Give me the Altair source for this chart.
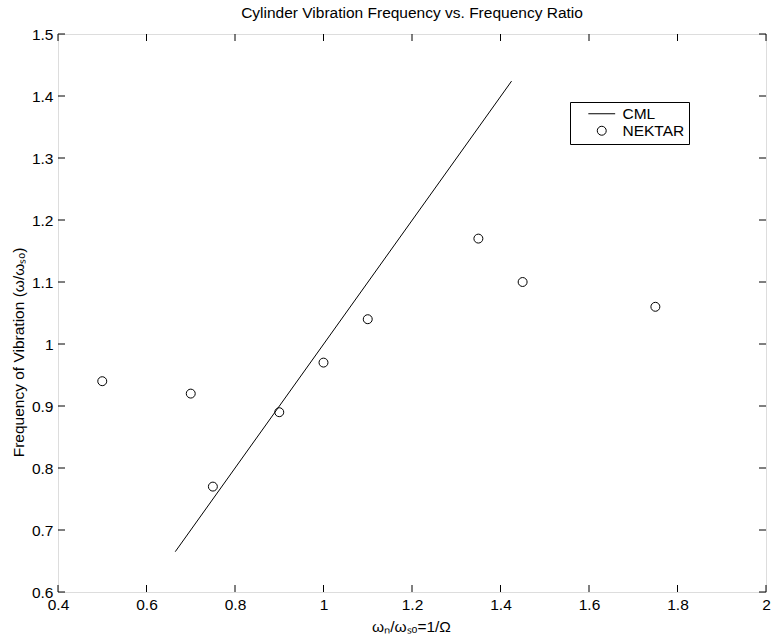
import altair as alt
import pandas as pd

# Data
cml_x = [0.665, 1.425]
cml_y = [0.665, 1.424]
nek_x = [0.5, 0.7, 0.75, 0.9, 1.0, 1.1, 1.35, 1.45, 1.75]
nek_y = [0.94, 0.92, 0.77, 0.89, 0.97, 1.04, 1.17, 1.10, 1.06]
x_ticks = [0.4, 0.6, 0.8, 1.0, 1.2, 1.4, 1.6, 1.8, 2.0]
y_ticks = [0.6, 0.7, 0.8, 0.9, 1.0, 1.1, 1.2, 1.3, 1.4, 1.5]
series = ["CML", "NEKTAR"]

W, H = 708, 558
FONT = "Liberation Sans"
FS = 15.5
TL = 7  # inward tick length

cml_df = pd.DataFrame({"x": cml_x, "y": cml_y, "series": series[0]})
nek_df = pd.DataFrame({"x": nek_x, "y": nek_y, "series": series[1]})
xt_df = pd.DataFrame({"v": x_ticks})
yt_df = pd.DataFrame({"v": y_ticks})

xscale = alt.Scale(domain=[x_ticks[0], x_ticks[-1]], nice=False, zero=False)
yscale = alt.Scale(domain=[y_ticks[0], y_ticks[-1]], nice=False, zero=False)

xaxis = alt.Axis(values=x_ticks, format="~g", tickSize=0, domain=False, grid=False,
                 labelFlush=False, labelOverlap=False,
                 labelPadding=5, labelFontSize=FS, labelFont=FONT, labelColor="black",
                 title="ωₙ/ωₛₒ=1/Ω", titleFont=FONT, titleFontSize=FS, titleFontWeight="normal",
                 titleColor="black", titleX=W / 2 - 1, titleY=34, titleBaseline="middle",
                 titleAlign="center")
yaxis = alt.Axis(values=y_ticks, format="~g", tickSize=0, domain=False, grid=False,
                 labelFlush=False, labelOverlap=False,
                 labelPadding=5, labelFontSize=FS, labelFont=FONT, labelColor="black",
                 title="Frequency of Vibration (ω/ωₛₒ)", titleFont=FONT, titleFontSize=FS,
                 titleFontWeight="normal", titleColor="black", titleX=-40, titleY=318,
                 titleAngle=270, titleBaseline="middle", titleAlign="center")

line = alt.Chart(cml_df).mark_line(color="black", strokeWidth=1).encode(
    x=alt.X("x:Q", scale=xscale, axis=xaxis),
    y=alt.Y("y:Q", scale=yscale, axis=yaxis),
)

points = alt.Chart(nek_df).mark_point(filled=False, color="black", size=80, strokeWidth=1, opacity=1).encode(
    x=alt.X("x:Q", scale=xscale),
    y=alt.Y("y:Q", scale=yscale),
    shape=alt.Shape("series:N",
                    scale=alt.Scale(domain=series, range=["M-3,0H3", "circle"]),
                    legend=alt.Legend(title=None, orient="none", legendX=512, legendY=68,
                                      strokeColor="black", fillColor="white", padding=4,
                                      labelFont=FONT, labelFontSize=FS, labelColor="black",
                                      symbolStrokeColor="black", symbolStrokeWidth=1,
                                      symbolFillColor="transparent", symbolSize=80,
                                      symbolOffset=20, labelOffset=13, rowPadding=0,
                                      cornerRadius=0)),
)

bot = alt.Chart(xt_df).mark_rule(color="black", strokeWidth=1).encode(
    x=alt.X("v:Q", scale=xscale), y=alt.value(H), y2=alt.value(H - TL))
top = alt.Chart(xt_df).mark_rule(color="black", strokeWidth=1).encode(
    x=alt.X("v:Q", scale=xscale), y=alt.value(0), y2=alt.value(TL))
left = alt.Chart(yt_df).mark_rule(color="black", strokeWidth=1).encode(
    y=alt.Y("v:Q", scale=yscale), x=alt.value(0), x2=alt.value(TL))
right = alt.Chart(yt_df).mark_rule(color="black", strokeWidth=1).encode(
    y=alt.Y("v:Q", scale=yscale), x=alt.value(W), x2=alt.value(W - TL))

chart = alt.layer(bot, top, left, right, line, points).properties(
    width=W, height=H,
    autosize="none",
    padding={"left": 58, "top": 34, "right": 5, "bottom": 50},
    title=alt.TitleParams("Cylinder Vibration Frequency vs. Frequency Ratio", font=FONT,
                          fontSize=FS, fontWeight="normal", color="black", offset=6,
                          anchor="middle"),
).configure_view(stroke="black", strokeWidth=1).configure(background="white")

chart.save("out.html", embed_options={"renderer": "svg", "actions": False})
